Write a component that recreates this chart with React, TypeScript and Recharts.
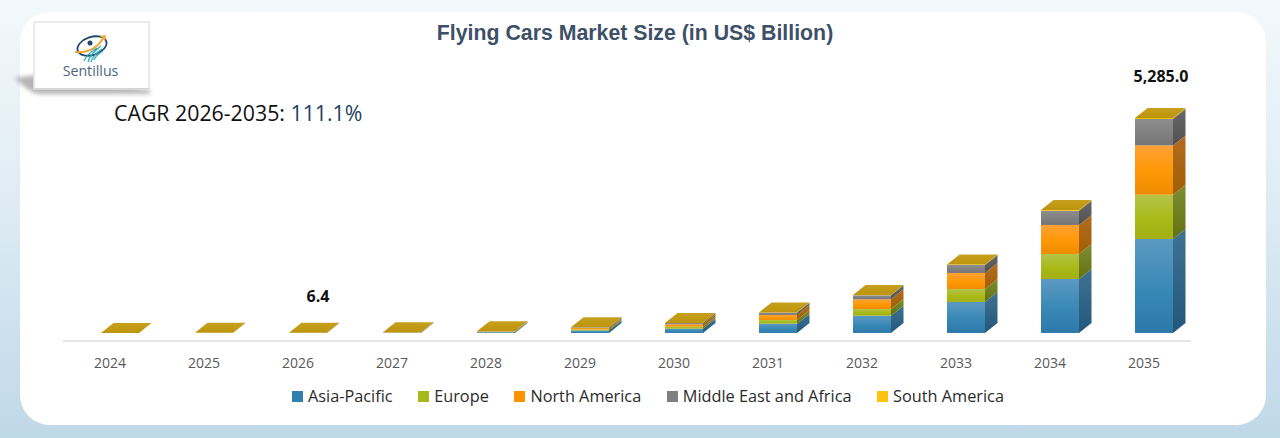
import React from 'react';
import { BarChart, Bar, XAxis, YAxis, Legend, LabelList } from 'recharts';

// values (US$ billion)
const years = ['2024', '2025', '2026', '2027', '2028', '2029', '2030', '2031', '2032', '2033', '2034', '2035'];
const asiaPacific = [0.5, 1.3, 2.8, 9, 20, 60, 106, 229, 425, 762, 1327, 2310];
const europe = [0.2, 0.6, 1.3, 4, 9, 30, 49, 91, 165, 320, 615, 1089];
const northAmerica = [0.2, 0.7, 1.5, 5, 10, 35, 59, 123, 238, 393, 713, 1212];
const middleEastAfrica = [0.1, 0.3, 0.7, 2, 5, 15, 30, 57, 98, 197, 351, 649];
const southAmerica = [0.02, 0.05, 0.1, 0.2, 0.5, 1, 2, 3, 5, 10, 17, 25];
const totalLabels = ['', '', '6.4', '', '', '', '', '', '', '', '', '5,285.0'];

const chartData = years.map((year, i) => ({
  year,
  asiaPacific: asiaPacific[i],
  europe: europe[i],
  northAmerica: northAmerica[i],
  middleEastAfrica: middleEastAfrica[i],
  southAmerica: southAmerica[i],
  label: totalLabels[i],
}));

const seriesList = [
  { key: 'asiaPacific', name: 'Asia-Pacific', swatch: '#2e80b0', front: ['#5c9ac2', '#3888b6', '#2c79a9'], side: ['#3f7193', '#23587a'] },
  { key: 'europe', name: 'Europe', swatch: '#a6b81a', front: ['#b6c34a', '#a9b916', '#a2b014'], side: ['#7d8d33', '#637210'] },
  { key: 'northAmerica', name: 'North America', swatch: '#ff9200', front: ['#ffa136', '#ff9804', '#ee8b00'], side: ['#b26c22', '#a25f02'] },
  { key: 'middleEastAfrica', name: 'Middle East and Africa', swatch: '#808080', front: ['#8d8d8d', '#808080', '#747474'], side: ['#686868', '#505050'] },
  { key: 'southAmerica', name: 'South America', swatch: '#ffc20e', front: ['#ffc000', '#ffc000', '#ffc000'], side: ['#b8920c', '#b8920c'] },
];

const SHIFT = 10;
const DEPTH_X = 12.5;
const DEPTH_Y = 10;
const uiFont = '"Open Sans", sans-serif';

const Cuboid: React.FC<any> = ({ x, y, width, height, seriesKey, top }) => {
  const left = x + SHIFT;
  const right = left + width;
  return (
    <g>
      <rect x={left} y={y} width={width} height={height} fill={`url(#front-${seriesKey})`} />
      <polygon
        points={`${right},${y} ${right + DEPTH_X},${y - DEPTH_Y} ${right + DEPTH_X},${y + height - DEPTH_Y} ${right},${y + height}`}
        fill={`url(#side-${seriesKey})`}
      />
      {top && (
        <polygon
          points={`${left},${y} ${right},${y} ${right + DEPTH_X},${y - DEPTH_Y} ${left + DEPTH_X},${y - DEPTH_Y}`}
          fill="url(#capFill)"
        />
      )}
    </g>
  );
};

const labelNudge: Record<string, { dx: number; dy: number }> = {
  '6.4': { dx: 20, dy: -37 },
  '5,285.0': { dx: 17, dy: -42 },
};

const TotalLabel: React.FC<any> = ({ x, y, width, value }) => {
  if (!value) return null;
  const nudge = labelNudge[value];
  return (
    <text
      x={x + width / 2 + nudge.dx}
      y={y + nudge.dy}
      textAnchor="middle"
      dominantBaseline="central"
      fontFamily={uiFont}
      fontWeight={700}
      fontSize={16}
      fill="#111"
    >
      {value}
    </text>
  );
};

const LegendRow: React.FC = () => (
  <div style={{ display: 'flex', alignItems: 'center', fontFamily: uiFont, fontSize: 16.3, color: '#2b2b2b', whiteSpace: 'nowrap' }}>
    {seriesList.map((s) => (
      <span key={s.key} style={{ display: 'flex', alignItems: 'center', marginRight: 25.6 }}>
        <span style={{ width: 11, height: 11, background: s.swatch, marginRight: 5 }} />
        {s.name}
      </span>
    ))}
  </div>
);

const LogoBox: React.FC = () => (
  <svg width={160} height={100} style={{ position: 'absolute', left: 0, top: 0 }}>
    <defs>
      <filter id="logoBlur" x="-30%" y="-30%" width="160%" height="160%">
        <feGaussianBlur stdDeviation="2.2" />
      </filter>
    </defs>
    <polygon points="14,78 36,75 150,90 150,94 36,94 26,88" fill="#8f8f8f" opacity={0.65} filter="url(#logoBlur)" />
    <rect x={34} y={22} width={115} height={67} fill="#fff" stroke="#e4e4e4" strokeWidth={1.5} />
    <rect x={34} y={88} width={115} height={1.6} fill="#d6d6d6" />
    <ellipse cx={92} cy={46} rx={15} ry={9} fill="none" stroke="#1f4a6b" strokeWidth={1.8} transform="rotate(-18 92 46)" />
    <path d="M75 52 Q94 54 104 37" fill="none" stroke="#f2a62c" strokeWidth={2} />
    <polygon points="100,36 106,35 105,41" fill="#f2a62c" />
    <path d="M88 62 Q90 54 101 46 M91 62 Q93 55 102 49 M84 61 Q87 54 97 48 M94 60 Q96 55 103 51" fill="none" stroke="#2fa9b5" strokeWidth={1.3} />
    <circle cx={90} cy={43} r={2.5} fill="#1f4a6b" />
    <text x={90.5} y={76} textAnchor="middle" fontFamily={uiFont} fontSize={14.2} fill="#4d6680">Sentillus</text>
  </svg>
);

export default function App() {
  return (
    <div
      style={{
        position: 'fixed', left: 0, top: 0, width: 1280, height: 438, overflow: 'hidden',
        background: 'linear-gradient(180deg, #f3f8fb 0%, #dfecf4 45%, #bfd8e8 100%)',
      }}
    >
      <div style={{ position: 'absolute', left: 20, top: 12, width: 1246, height: 413, background: '#fff', borderRadius: 30 }} />
      <div style={{ position: 'absolute', left: 0, top: 0 }}>
        <BarChart
          width={1280}
          height={438}
          data={chartData}
          barSize={38}
          margin={{ top: 88.9, right: 89, bottom: 56.9, left: 63 }}
        >
          <defs>
            {seriesList.map((s) => (
              <linearGradient key={s.key} id={`front-${s.key}`} x1="0" y1="0" x2="0" y2="1">
                <stop offset="0%" stopColor={s.front[0]} />
                <stop offset="55%" stopColor={s.front[1]} />
                <stop offset="100%" stopColor={s.front[2]} />
              </linearGradient>
            ))}
            {seriesList.map((s) => (
              <linearGradient key={s.key} id={`side-${s.key}`} x1="0" y1="0" x2="0" y2="1">
                <stop offset="0%" stopColor={s.side[0]} />
                <stop offset="100%" stopColor={s.side[1]} />
              </linearGradient>
            ))}
            <linearGradient id="capFill" x1="0" y1="0" x2="0" y2="1">
              <stop offset="0%" stopColor="#c6a01e" />
              <stop offset="100%" stopColor="#bd940c" />
            </linearGradient>
          </defs>
          <XAxis
            dataKey="year"
            stroke="#e6e6e6"
            strokeWidth={2}
            tickLine={false}
            tickMargin={11}
            height={40}
            tick={{ fontSize: 14, fill: '#595959', fontFamily: uiFont }}
          />
          <YAxis hide width={0} domain={[-200, 6000]} />
          <Legend
            layout="horizontal"
            verticalAlign="middle"
            align="center"
            content={<LegendRow />}
            wrapperStyle={{ top: 385, left: 292, width: 800 }}
          />
          {seriesList.map((s, i) => (
            <Bar
              key={s.key}
              dataKey={s.key}
              name={s.name}
              stackId="market"
              fill={s.swatch}
              isAnimationActive={false}
              shape={(p: any) => <Cuboid {...p} seriesKey={s.key} top={i === seriesList.length - 1} />}
            >
              {i === seriesList.length - 1 && <LabelList dataKey="label" content={<TotalLabel />} />}
            </Bar>
          ))}
        </BarChart>
      </div>
      <div
        style={{
          position: 'absolute', left: 0, width: 1270, top: 21, textAlign: 'center',
          fontFamily: '"Liberation Sans", Arial, sans-serif', fontWeight: 700, fontSize: 21.3, color: '#3d5068',
        }}
      >
        Flying Cars Market Size (in US$ Billion)
      </div>
      <div style={{ position: 'absolute', left: 114, top: 98, fontFamily: uiFont, fontSize: 21.3, color: '#111', whiteSpace: 'nowrap' }}>
        CAGR 2026-2035: <span style={{ color: '#1f3f63' }}>111.1%</span>
      </div>
      <LogoBox />
    </div>
  );
}
